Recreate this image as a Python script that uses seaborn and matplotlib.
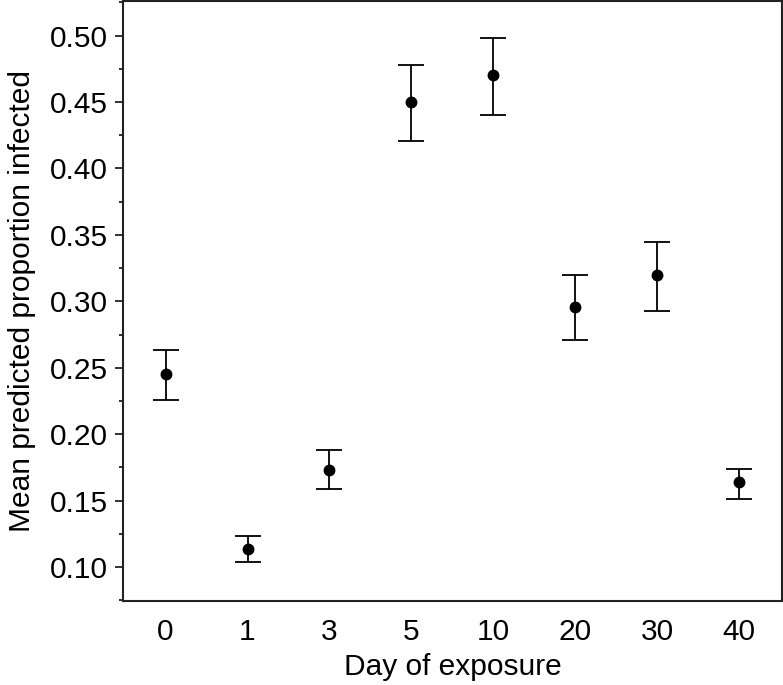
import matplotlib
matplotlib.use("Agg")
import matplotlib.pyplot as plt
from matplotlib.ticker import MultipleLocator
import seaborn as sns
import pandas as pd
import numpy as np

days = ["0", "1", "3", "5", "10", "20", "30", "40"]
mean = [0.2455, 0.1135, 0.1733, 0.4500, 0.4707, 0.2955, 0.3195, 0.1643]
lower = [0.2256, 0.1038, 0.1587, 0.4210, 0.4406, 0.2707, 0.2925, 0.1511]
upper = [0.2635, 0.1233, 0.1880, 0.4780, 0.4985, 0.3200, 0.3444, 0.1737]

sns.set_theme(style="ticks")
plt.rcParams["font.family"] = ["Liberation Sans", "DejaVu Sans"]
plt.rcParams["text.color"] = "black"
plt.rcParams["axes.labelcolor"] = "black"
plt.rcParams["xtick.color"] = "black"
plt.rcParams["ytick.color"] = "black"

df = pd.DataFrame({"day": days, "mean": mean})

fig = plt.figure(figsize=(7.83, 6.85), dpi=100)
ax = fig.add_axes([0.157, 0.1226, 0.8417, 0.8764])

sns.pointplot(data=df, x="day", y="mean", order=days, linestyle="none",
              color="black", markers="o", markersize=6.5, errorbar=None, ax=ax)
pos = np.arange(len(days))
m = np.array(mean)
yerr = np.vstack([m - np.array(lower), np.array(upper) - m])
ax.errorbar(pos, m, yerr=yerr, fmt="none", ecolor="black", elinewidth=1.3,
            capsize=9.5, capthick=1.3)

ax.set_xlim(-0.52, 7.52)
ax.set_ylim(0.0744, 0.5263)
ax.yaxis.set_major_locator(MultipleLocator(0.05))
ax.yaxis.set_minor_locator(MultipleLocator(0.025))
ax.yaxis.set_major_formatter(matplotlib.ticker.FormatStrFormatter("%.2f"))
ax.tick_params(axis="y", which="major", length=6, width=1.3, labelsize=21.5,
               color="#222222", pad=5)
ax.tick_params(axis="y", which="minor", length=3, width=1.3, color="#222222")
ax.tick_params(axis="x", which="both", length=0, labelsize=21.5, pad=12)
for s in ax.spines.values():
    s.set_visible(True)
    s.set_color("#222222")
    s.set_linewidth(1.5)
ax.set_xlabel("Day of exposure", fontsize=21.5, labelpad=5)
ax.set_ylabel("Mean predicted proportion infected", fontsize=21.5, labelpad=10)

fig.savefig("out.png", dpi=100)
